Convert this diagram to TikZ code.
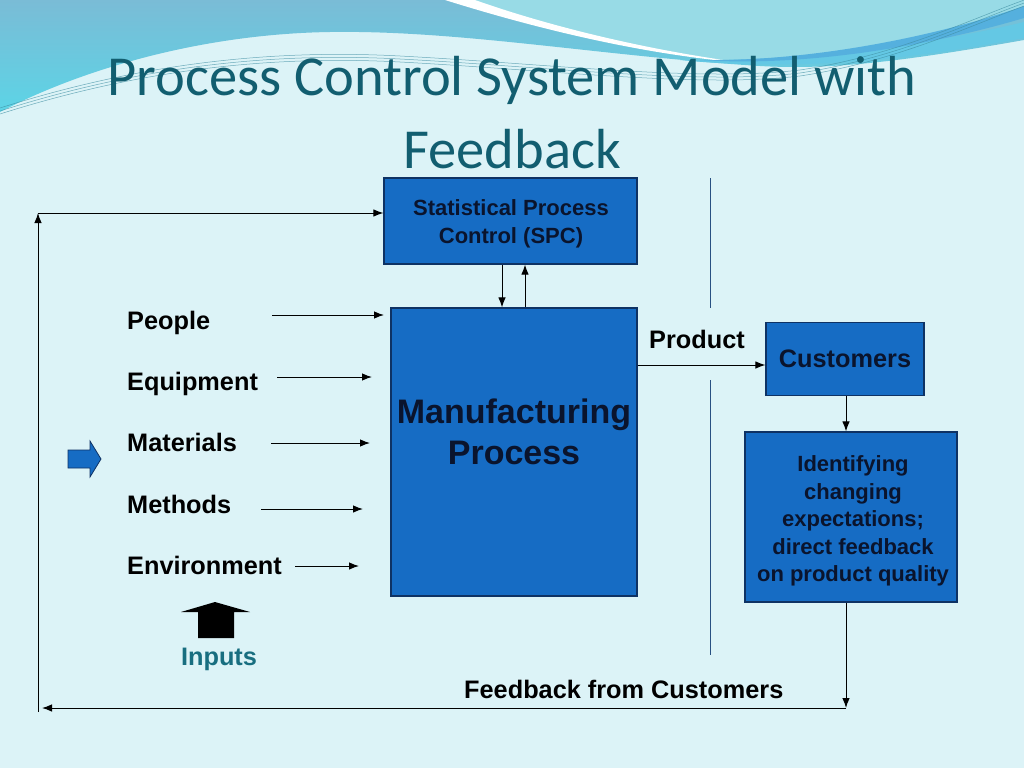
\documentclass[tikz,border=0pt]{standalone}
\usepackage{fontspec}
\setmainfont{Liberation Sans}
\newfontfamily\titlefont{Carlito}
\usetikzlibrary{arrows.meta}
\definecolor{bg}{RGB}{220,243,247}
\definecolor{wavetop}{RGB}{122,188,214}
\definecolor{wavebot}{RGB}{92,212,230}
\definecolor{pale}{RGB}{152,219,230}
\definecolor{band}{RGB}{85,176,222}
\definecolor{bandlight}{RGB}{100,200,228}
\definecolor{boxfill}{RGB}{22,108,196}
\definecolor{boxline}{RGB}{14,50,100}
\definecolor{boxtext}{RGB}{10,20,45}
\definecolor{titlecol}{RGB}{18,94,112}
\definecolor{inputcol}{RGB}{24,110,128}
\definecolor{sepline}{RGB}{40,80,130}
\definecolor{thinwave}{RGB}{60,140,160}
\begin{document}
\begin{tikzpicture}[x=1pt,y=-1pt,
  box/.style={draw=boxline, line width=1.2pt, fill=boxfill, inner sep=0pt, text=boxtext, align=center},
  boxtxt/.style={text=boxtext, align=center, inner sep=0pt},
  lbl/.style={anchor=west, inner sep=0pt, font=\fontsize{25.3}{30}\selectfont\bfseries, text height=18pt, text depth=0pt},
  arr/.style={-{Latex[length=10pt,width=7.5pt]}, line width=1pt, black},
  sep/.style={draw=sepline, line width=0.9pt}
]
\useasboundingbox (0,0) rectangle (1024,768);
% background
\fill[bg] (0,0) rectangle (1024,768);
\shade[top color=wavetop, bottom color=wavebot]
  (0,0) -- (1024,0) -- (1024,40) .. controls (900,62) and (830,70) .. (760,66)
  .. controls (600,56) and (460,30) .. (330,32) .. controls (200,34) and (80,70) .. (0,112) -- cycle;
\fill[pale] (460,0) .. controls (560,35) and (680,62) .. (770,62) .. controls (880,62) and (980,30) .. (1024,10) -- (1024,0) -- cycle;
\fill[white] (445,0) .. controls (560,36) and (660,56) .. (745,63) .. controls (660,52) and (560,30) .. (475,0) -- cycle;
\fill[bandlight] (680,60) .. controls (820,74) and (950,52) .. (1024,38) -- (1024,22) .. controls (950,40) and (820,62) .. (680,60) -- cycle;
\fill[band] (700,60) .. controls (820,68) and (950,40) .. (1024,18) -- (1024,6) .. controls (950,32) and (820,62) .. (700,60) -- cycle;
\foreach \d in {0,3,6}{
  \draw[thinwave, line width=0.5pt, opacity=0.7] (0,108+\d) .. controls (120,70+\d) and (250,48+\d) .. (400,56+\d)
   .. controls (550,64+\d) and (700,82+\d) .. (800,70+\d) .. controls (900,55+\d) and (980,15+\d) .. (1030,-2+\d);
}
% title
\node[text=titlecol, font=\titlefont\fontsize{56.5}{66}\selectfont, inner sep=0pt] (t1) at (512,80) {Process Control System Model with};
\node[text=titlecol, font=\titlefont\fontsize{56.5}{66}\selectfont, inner sep=0pt] (t2) at (512,149) {Feedback};
% separators
\draw[sep] (710,178) -- (710,308);
\draw[sep] (710,380) -- (710,655);
% boxes
\node[box, minimum width=253pt, minimum height=86pt] (spc) at (510.5,221) {};
\node[boxtxt, font=\fontsize{22}{28}\selectfont\bfseries] (spct) at (511,224) {Statistical Process\\ Control (SPC)};
\node[box, minimum width=246pt, minimum height=288pt] (mfg) at (514,452) {};
\node[boxtxt, font=\fontsize{34}{41}\selectfont\bfseries] (mfgt) at (514,432) {Manufacturing\\Process};
\node[box, minimum width=158pt, minimum height=73pt, font=\fontsize{25.3}{30}\selectfont\bfseries] (cust) at (845,359) {Customers};
\node[box, minimum width=212pt, minimum height=170pt] (ident) at (851,517) {};
\node[boxtxt, font=\fontsize{22}{27.5}\selectfont\bfseries] (identt) at (853,521) {Identifying\\changing\\expectations;\\direct feedback\\on product quality};
% input labels
\node[lbl] (people) at (127,320) {People};
\node[lbl] (equip) at (127,381) {Equipment};
\node[lbl] (mater) at (127,442) {Materials};
\node[lbl] (meth) at (127,504) {Methods};
\node[lbl] (env) at (127,565) {Environment};
\node[lbl] (prod) at (649,339) {Product};
\node[lbl] (fbc) at (464,689) {Feedback from Customers};
\node[lbl, anchor=center, text=inputcol] (inp) at (219,656) {Inputs};
% input arrows
\coordinate (pe0) at (272,315); \coordinate (pe1) at (384,315);
\coordinate (eq0) at (277,377); \coordinate (eq1) at (372,377);
\coordinate (ma0) at (271,443); \coordinate (ma1) at (370,443);
\coordinate (me0) at (261,509); \coordinate (me1) at (363,509);
\coordinate (en0) at (295,566); \coordinate (en1) at (359,566);
\draw[arr] (pe0) -- (pe1);
\draw[arr] (eq0) -- (eq1);
\draw[arr] (ma0) -- (ma1);
\draw[arr] (me0) -- (me1);
\draw[arr] (en0) -- (en1);
% spc <-> mfg
\draw[arr] (spc.south -| 502,0) -- (mfg.north -| 502,0);
\draw[arr] (mfg.north -| 525,0) -- (spc.south -| 525,0);
% product
\draw[arr] (mfg.east |- 0,365) -- (cust.west |- 0,365);
\draw[arr] (cust.south -| 846,0) -- (ident.north -| 846,0);
% feedback loop
\coordinate (fbR) at (846,708);
\coordinate (fbL) at (42,708);
\coordinate (fbB) at (38,712);
\coordinate (fbT) at (38,213);
\draw[arr] (ident.south -| fbR) -- (fbR);
\draw[arr] (fbR) -- (fbL);
\draw[arr] (fbB) -- (fbT);
\draw[arr] (fbT) -- (spc.west |- fbT);
% block arrows
\fill[boxfill, draw=boxline, line width=0.8pt] (68,450) -- (90,450) -- (90,441) -- (101,459) -- (90,477) -- (90,468) -- (68,468) -- cycle;
\fill[black] (215,602) -- (250,612) -- (234,612) -- (234,638) -- (198,638) -- (198,612) -- (181,612) -- cycle;
\end{tikzpicture}
\end{document}
